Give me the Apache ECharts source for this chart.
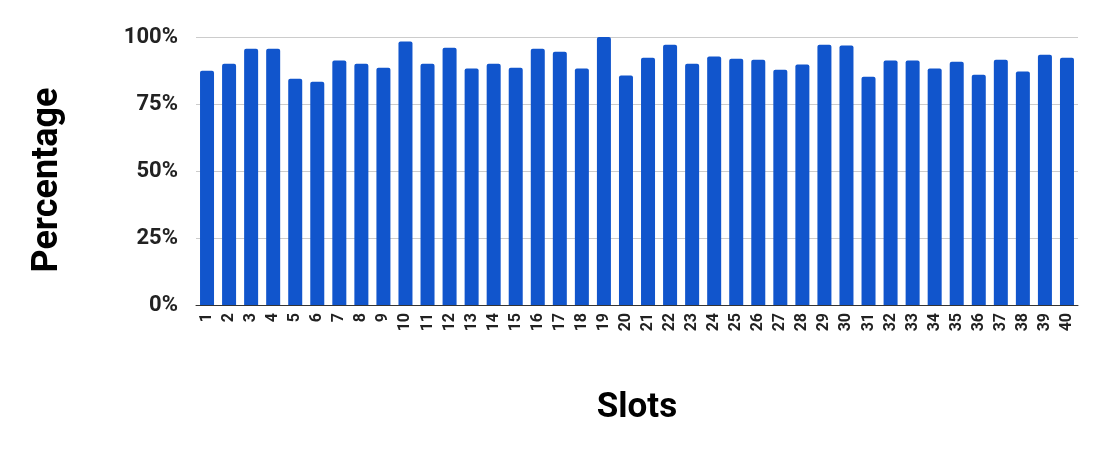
<!DOCTYPE html>
<html>
<head>
<meta charset="utf-8">
<script src="https://cdn.jsdelivr.net/npm/echarts@6/dist/echarts.min.js"></script>
<style>
  html, body { margin: 0; padding: 0; background: #fff; }
  #chart { width: 1105px; height: 452px; }
</style>
</head>
<body>
<div id="chart"></div>
<script>
// slot numbers 1..40
const slots = [
  '1', '2', '3', '4', '5', '6', '7', '8', '9', '10',
  '11', '12', '13', '14', '15', '16', '17', '18', '19', '20',
  '21', '22', '23', '24', '25', '26', '27', '28', '29', '30',
  '31', '32', '33', '34', '35', '36', '37', '38', '39', '40'
];
// percentage per slot
const percentages = [
  87.4, 90.0, 95.6, 95.6, 84.4, 83.3, 91.2, 90.0, 88.5, 98.3,
  90.0, 96.0, 88.2, 90.0, 88.5, 95.6, 94.5, 88.2, 100, 85.6,
  92.3, 97.1, 90.0, 92.7, 91.9, 91.5, 87.8, 89.7, 97.1, 96.8,
  85.2, 91.2, 91.2, 88.2, 90.8, 85.9, 91.5, 87.1, 93.4, 92.3
];
const yTicks = [0, 25, 50, 75, 100];

const chart = echarts.init(document.getElementById('chart'));
const font = 'Roboto';

chart.setOption({
  animation: false,
  textStyle: { fontFamily: font },
  grid: { top: 37, bottom: 147, left: 196, right: 27 },
  xAxis: {
    type: 'category',
    data: slots,
    name: 'Slots',
    nameLocation: 'middle',
    nameGap: 86,
    nameTextStyle: { fontFamily: font, fontSize: 35, fontWeight: 'bold', color: '#000' },
    axisLine: { lineStyle: { color: '#333', width: 1 } },
    axisTick: { show: false },
    axisLabel: {
      rotate: 90,
      interval: 0,
      margin: 8,
      fontFamily: font,
      fontSize: 16,
      fontWeight: 'bold',
      color: '#222'
    }
  },
  yAxis: {
    type: 'value',
    min: yTicks[0],
    max: yTicks[yTicks.length - 1],
    interval: 25,
    name: 'Percentage',
    nameLocation: 'middle',
    nameGap: 130,
    nameTextStyle: {
      fontFamily: font, fontSize: 36, fontWeight: 'bold', color: '#000',
      padding: [0, 18, 0, 0]
    },
    axisLine: { show: false },
    axisTick: { show: false },
    splitLine: { lineStyle: { color: '#ccc', width: 1 } },
    axisLabel: {
      formatter: '{value}%',
      margin: 18,
      fontFamily: font,
      fontSize: 22,
      fontWeight: 'bold',
      color: '#222'
    }
  },
  series: [
    {
      type: 'bar',
      data: percentages,
      barWidth: 14,
      itemStyle: { color: '#1155cc', borderRadius: [2, 2, 0, 0] }
    }
  ]
});
</script>
</body>
</html>
